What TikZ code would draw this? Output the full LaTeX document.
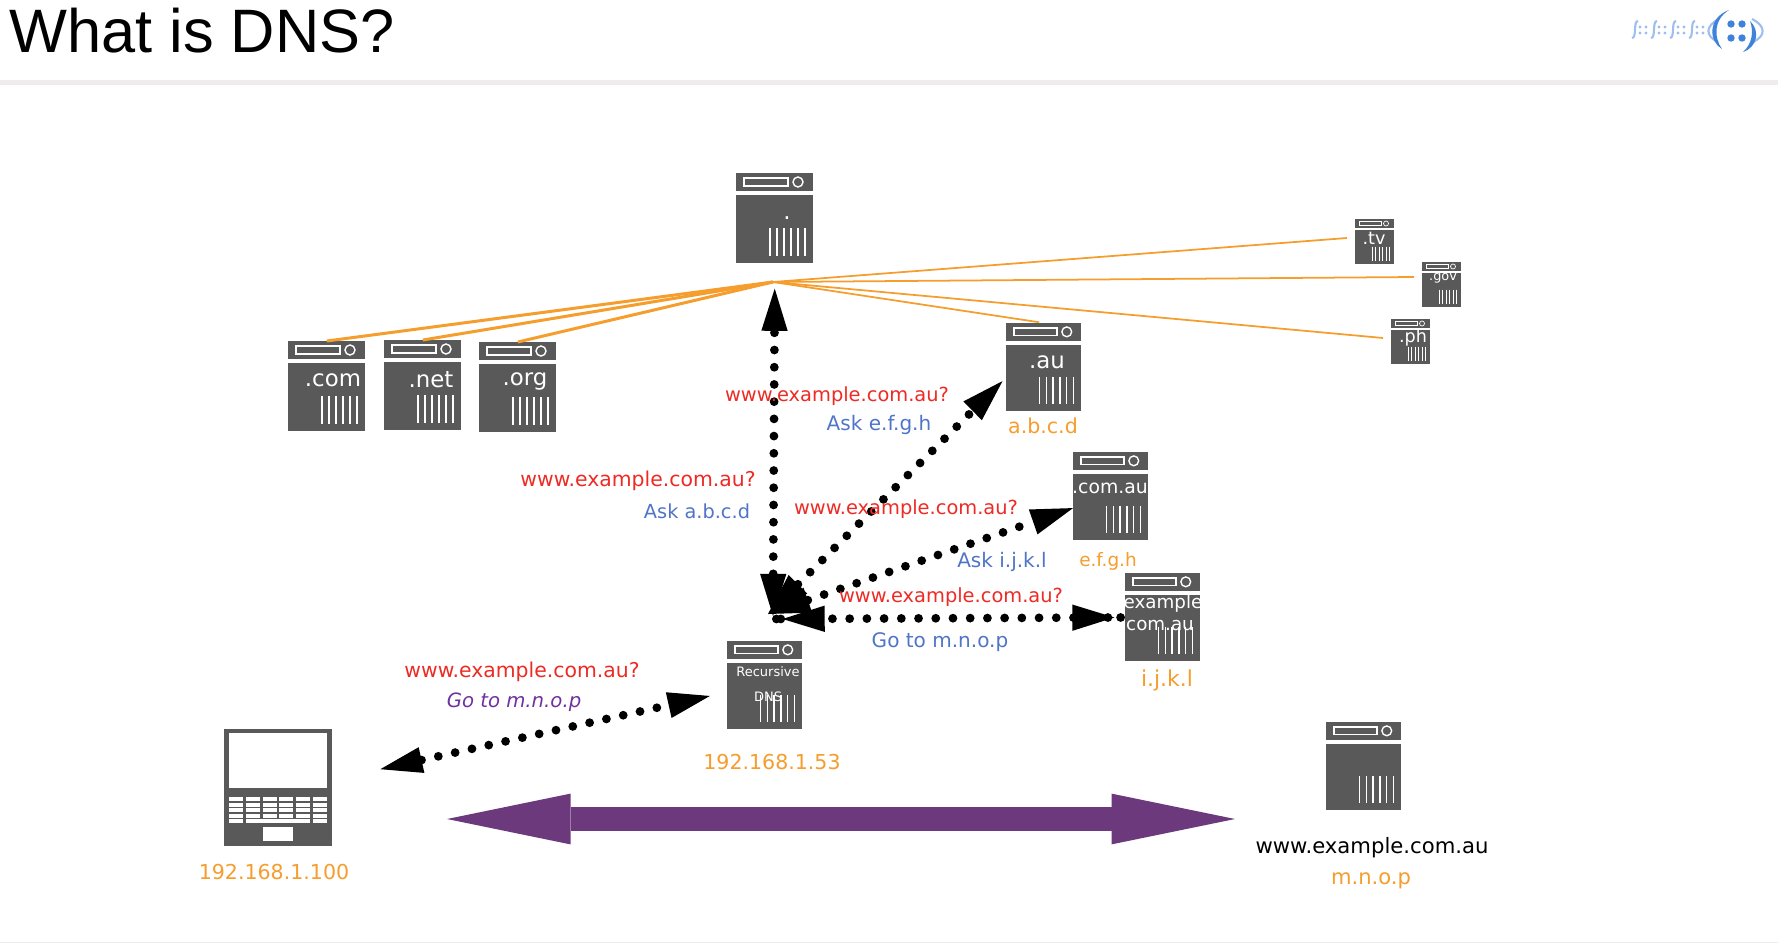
\documentclass[tikz,border=0pt]{standalone}
\usepackage{fontspec}
\setmainfont{DejaVu Sans}
\newfontfamily\titlefont{Liberation Sans}
\usetikzlibrary{arrows.meta}
\definecolor{srvgray}{HTML}{595959}
\definecolor{hdrgray}{HTML}{EEECEC}
\definecolor{linkorange}{HTML}{F59D2D}
\definecolor{askred}{HTML}{EE2A24}
\definecolor{askblue}{HTML}{4F74C8}
\definecolor{bandpurple}{HTML}{6C3A7C}
\definecolor{gopurple}{HTML}{7030A0}
\definecolor{logolight}{HTML}{9CBFEE}
\definecolor{logoblue}{HTML}{3F82DC}
\tikzset{
  redtxt/.style={text=askred,font=\fontsize{11.05}{13}\selectfont,inner sep=0pt},
  bluetxt/.style={text=askblue,font=\fontsize{11.4}{13}\selectfont,inner sep=0pt},
  ipaddr/.style={text=linkorange,font=\fontsize{11.7}{13}\selectfont,inner sep=0pt},
  srvtxt/.style={text=white,inner sep=0pt},
  srvbox/.style={inner sep=0pt,minimum width=#1*1.54cm,minimum height=#1*1.8cm,anchor=north west},
  thicklink/.style={linkorange,line width=1.7pt},
  thinlink/.style={linkorange,line width=1pt},
  dotlink/.style={line width=5pt,line cap=round,dash pattern=on 0pt off 9.8pt},
  dottips/.style={{Circle[length=5pt,line width=0pt] Triangle[length=24pt,width=15pt,line width=0pt,sep=1pt]}-{Triangle[length=24pt,width=15pt,line width=0pt,sep=1pt] Circle[length=5pt,line width=0pt]}},
  plaintips/.style={{Triangle[length=24pt,width=15pt,line width=0pt]}-{Triangle[length=24pt,width=15pt,line width=0pt]}}
}
% #1 size, #2 name, #3 left, #4 top
\newcommand{\serverbox}[4]{
  \node[srvbox=#1] (#2) at (#3,#4) {};
  \begin{scope}[shift={(#3,#4)},scale=#1]
    \fill[srvgray] (0,0) rectangle (77,18);
    \fill[srvgray] (0,22) rectangle (77,90);
    \draw[white,line width=#1*0.8pt] (8,5) rectangle (52,13);
    \draw[white,line width=#1*0.8pt] (62,9) circle (5);
    \foreach \v in {34,41,48,55,62,69}
      \draw[white,line width=#1*0.8pt] (\v,55)--(\v,83);
  \end{scope}
}
\begin{document}
\begin{tikzpicture}[x=0.02cm,y=-0.02cm]
  \useasboundingbox (0,0) rectangle (1778,943);
  % header
  \fill[hdrgray] (0,80) rectangle (1778,85);
  \fill[hdrgray] (0,941.5) rectangle (1778,943);
  \node[anchor=base west,inner sep=0pt,font=\titlefont\fontsize{34.9}{40}\selectfont] (title) at (9,52) {What is DNS?};
  % logo
  \foreach \xx in {1640,1659,1678,1697}{
    \draw[logolight,line width=1.2pt] (\xx-2,21) .. controls (\xx-7,21) and (\xx-3,38) .. (\xx-8,38);
    \foreach \a in {0,6} \foreach \b in {27,33}
      \fill[logolight] (\xx+\a,\b) circle (1.6);
  }
  \draw[logolight,line width=1.2pt] (1719,19) .. controls (1705,26) and (1705,36) .. (1718,42);
  \draw[logolight,line width=1.2pt] (1752,19) .. controls (1766,26) and (1766,36) .. (1753,42);
  \fill[logoblue] (1729,10) .. controls (1707,18) and (1709,42) .. (1722,49) .. controls (1714,38) and (1713,20) .. (1729,10);
  \fill[logoblue] (1750,21) .. controls (1760,30) and (1758,47) .. (1743,52) .. controls (1752,44) and (1754,32) .. (1750,21);
  \foreach \xx in {1731,1742} \foreach \b in {24,38}
    \fill[logoblue] (\xx,\b) circle (3.7);

  % servers
  \serverbox{1}{rootdns}{736}{173}
  \serverbox{1}{comtld}{288}{341}
  \serverbox{1}{nettld}{384}{340}
  \serverbox{1}{orgtld}{479}{342}
  \serverbox{0.98}{autld}{1006}{323}
  \serverbox{0.98}{comau}{1073}{452}
  \serverbox{0.98}{exampleau}{1125}{573}
  \serverbox{0.98}{recursive}{727}{641}
  \serverbox{0.98}{webhost}{1326}{722}
  \serverbox{0.5}{tvtld}{1355}{219}
  \serverbox{0.5}{govtld}{1422}{262}
  \serverbox{0.5}{phtld}{1391}{319}

  % text in the servers
  \node[srvtxt,font=\fontsize{13}{15}\selectfont] (rootlbl) at (787,218) {.};
  \node[srvtxt,font=\fontsize{13}{15}\selectfont] (comlbl) at (333,380) {.com};
  \node[srvtxt,font=\fontsize{13}{15}\selectfont] (netlbl) at (431,380) {.net};
  \node[srvtxt,font=\fontsize{13}{15}\selectfont] (orglbl) at (525,381) {.org};
  \node[srvtxt,font=\fontsize{13}{15}\selectfont] (aulbl) at (1047,362) {.au};
  \node[srvtxt,font=\fontsize{10.7}{13}\selectfont] (comaulbl) at (1110,488) {.com.au};
  \node[srvtxt,font=\fontsize{10.4}{13}\selectfont] (exlbl) at (1163,603) {example};
  \node[srvtxt,font=\fontsize{10.4}{13}\selectfont] (exlblb) at (1160,626) {com.au};
  \node[srvtxt,font=\fontsize{7.4}{9}\selectfont] (reclbl) at (768,672) {Recursive};
  \node[srvtxt,font=\fontsize{7.4}{9}\selectfont] (reclblb) at (768,697) {DNS};
  \node[srvtxt,font=\fontsize{10}{12}\selectfont] (tvlbl) at (1374,238) {.tv};
  \node[srvtxt,font=\fontsize{7.3}{9}\selectfont] (govlbl) at (1443,278) {.gov};
  \node[srvtxt,font=\fontsize{10}{12}\selectfont] (phlbl) at (1413,338) {.ph};

  % laptop
  \node[inner sep=0pt,minimum width=2.16cm,minimum height=2.34cm] (laptop) at (278,787.5) {};
  \fill[srvgray] (224,729) rectangle (332,846);
  \fill[white] (229,733) rectangle (327,788);
  \foreach \r in {797.3,802.8,808.3,813.8}
    \foreach \c in {229.3,246,262.6,279.3,296,312.6}
      \fill[white] (\c,\r) rectangle (\c+14,\r+4);
  \fill[white] (229.3,819.3) rectangle (243.3,823.3);
  \fill[white] (246,819.3) rectangle (310,823.3);
  \fill[white] (312.6,819.3) rectangle (326.6,823.3);
  \fill[white] (263,827) rectangle (293,841);

  % orange lines
  \coordinate (roothub) at (773,282);
  \coordinate (tvend) at (1347,238);
  \coordinate (govend) at (1414,277);
  \coordinate (phend) at (1383,338);
  \draw[thicklink] (roothub)--(comtld.north);
  \draw[thicklink] (roothub)--(nettld.north);
  \draw[thicklink] (roothub)--(orgtld.north);
  \draw[thinlink,shorten >=2.8pt] (roothub)--(autld.north);
  \draw[thinlink] (roothub)--(tvend);
  \draw[thinlink] (roothub)--(govend);
  \draw[thinlink] (roothub)--(phend);

  % queries
  \coordinate (reshub) at (772,619);
  \coordinate (reshubb) at (768,614);
  \coordinate (reshubc) at (773,616);
  \draw[dotlink,plaintips,shorten >=14.2pt] (reshubc)--(rootdns.south);
  \draw[dotlink,plaintips,shorten >=2.8pt] (reshubb)--(autld.195);
  \draw[dotlink,plaintips] (reshubb)--(comau.197);
  \draw[dotlink,dottips] (reshub)--(exampleau.west);
  \draw[dotlink,plaintips,shorten <=28pt,shorten >=10pt] (laptop.8)--(recursive.190);

  % purple band
  \coordinate (bandleft) at (447,819);
  \coordinate (bandright) at (1235,819);
  \draw[bandpurple,line width=14.2pt,{Triangle[length=70.3pt,width=28.9pt,line width=0pt]}-{Triangle[length=70.3pt,width=28.9pt,line width=0pt]}] (bandleft)--(bandright);

  % labels
  \node[redtxt] (qa) at (837,396) {www.example.com.au?};
  \node[bluetxt] (ansa) at (879,425) {Ask e.f.g.h};
  \node[redtxt,font=\fontsize{11.6}{13}\selectfont] (qb) at (638,481) {www.example.com.au?};
  \node[bluetxt,font=\fontsize{11}{13}\selectfont] (ansb) at (697,511) {Ask a.b.c.d};
  \node[redtxt] (qc) at (906,509) {www.example.com.au?};
  \node[bluetxt] (ansc) at (1002,562) {Ask i.j.k.l};
  \node[redtxt] (qd) at (951,597) {www.example.com.au?};
  \node[bluetxt] (ansd) at (940,642) {Go to m.n.o.p};
  \node[redtxt,font=\fontsize{11.6}{13}\selectfont] (qe) at (522,672) {www.example.com.au?};
  \node[bluetxt,text=gopurple,font=\fontsize{11.2}{13}\itshape] (anse) at (514,702) {Go to m.n.o.p};
  \node[ipaddr] (ipau) at (1043,426) {a.b.c.d};
  \node[ipaddr,font=\fontsize{10.5}{13}\selectfont] (ipcomau) at (1108,561) {e.f.g.h};
  \node[ipaddr,font=\fontsize{12.5}{14}\selectfont] (ipex) at (1167,680) {i.j.k.l};
  \node[ipaddr] (ipres) at (772,762) {192.168.1.53};
  \node[ipaddr] (iplap) at (274,872) {192.168.1.100};
  \node[ipaddr,font=\fontsize{12}{14}\selectfont] (ipweb) at (1371,881) {m.n.o.p};
  \node[inner sep=0pt,font=\fontsize{12.05}{14}\selectfont] (webname) at (1372,848) {www.example.com.au};
\end{tikzpicture}
\end{document}
